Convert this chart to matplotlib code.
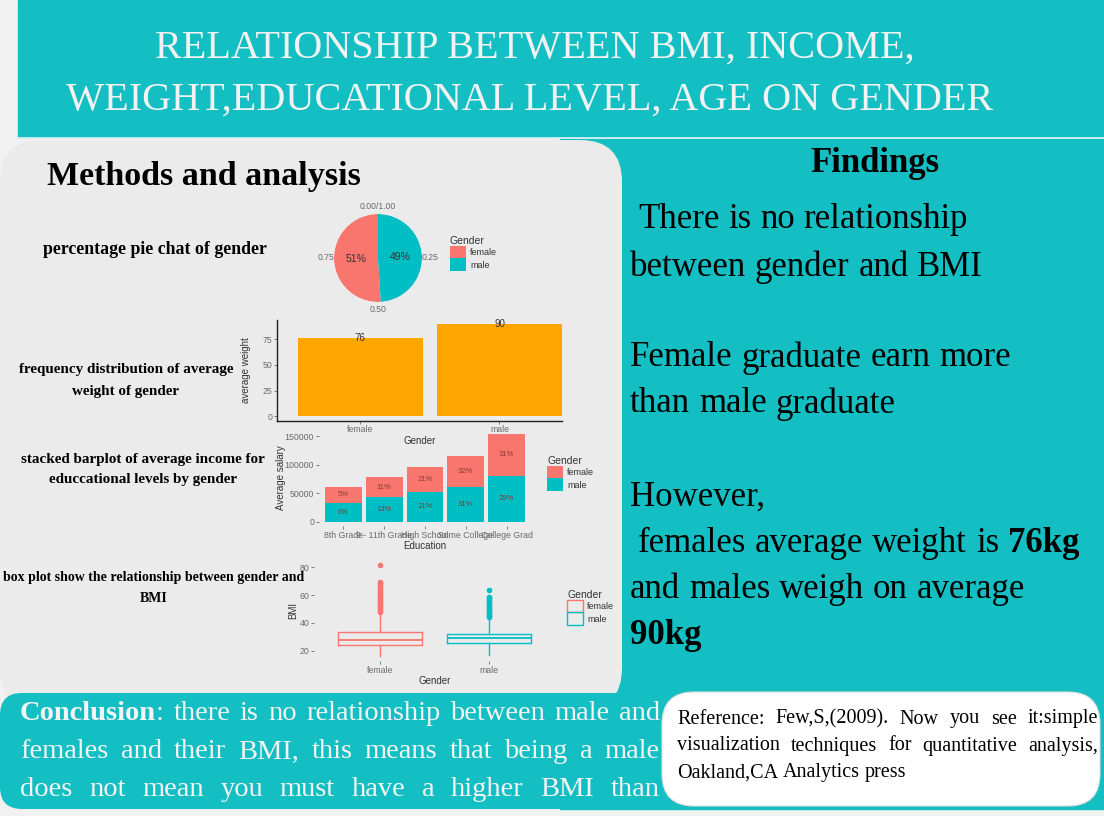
import matplotlib

matplotlib.use("Agg")
import matplotlib.pyplot as plt
import numpy as np
from matplotlib.patches import FancyBboxPatch, Patch, Rectangle

# ---- data ----------------------------------------------------------
title_lines = ["RELATIONSHIP BETWEEN BMI, INCOME,", "WEIGHT,EDUCATIONAL LEVEL, AGE ON GENDER"]

genders = ["female", "male"]
gender_share = [0.51, 0.49]
gender_pct = ["51%", "49%"]
pie_ticks = [0.0, 0.25, 0.5, 0.75]
pie_tick_labels = ["0.00/1.00", "0.25", "0.50", "0.75"]

avg_weight = [76, 90]

education = ["8th Grade", "9 - 11th Grade", "High School", "Some College", "College Grad"]
salary_male = [33300, 43300, 52000, 61000, 80000]
salary_female = [28100, 35100, 44000, 54000, 74000]
pct_male = ["6%", "13%", "21%", "31%", "29%"]
pct_female = ["5%", "11%", "21%", "32%", "31%"]

bmi_whislo = [16.0, 17.0]
bmi_q1 = [24.1, 25.3]
bmi_med = [27.7, 28.9]
bmi_q3 = [33.2, 32.0]
bmi_whishi = [47.0, 43.5]
bmi_fliers_female = [47.5, 48.5, 49.5, 50.5, 51.5, 52.5, 53.5, 54.5, 55.5, 56.5, 57.5,
                     58.5, 59.5, 60.5, 61.5, 62.5, 63.5, 64.5, 65.5, 66.5, 67.5, 68.5, 69.5, 81.5]
bmi_fliers_male = [44.0, 45.0, 46.0, 47.0, 48.0, 49.0, 50.0, 51.0, 52.0, 53.0, 54.0,
                   55.0, 56.0, 57.0, 58.0, 59.0, 64.0]

findings = [
    (218, 638, "There is no relationship"),
    (265, 630, "between gender and BMI"),
    (356, 630, "Female graduate earn more"),
    (402, 630, "than male graduate"),
    (495, 630, "However,"),
    (541, 638, "females average weight is *76kg*"),
    (587, 630, "and males weigh on average"),
    (633, 630, "*90kg*"),
]
# (x centre, y centre, font size, text)
method_labels = [
    (155, 249, 12.8, "percentage pie chat of gender"),
    (126, 370, 10.9, "frequency distribution of average"),
    (126, 391, 10.9, "weight of gender"),
    (143, 459, 10.9, "stacked barplot of average income for"),
    (143, 480, 10.9, "educcational levels by gender"),
    (154, 578, 10.0, "box plot show the relationship between gender and"),
    (154, 599, 10.0, "BMI"),
]
conclusion = [
    "*Conclusion*: there is no relationship between male and",
    "females and their BMI, this means that being a male",
    "does not mean you must have a higher BMI than",
]
reference = [
    "Reference: Few,S,(2009). Now you see it:simple",
    "visualization techniques for quantitative analysis,",
    "Oakland,CA Analytics press",
]

# ---- style -----------------------------------------------------------
TEAL = "#13bfc3"
PANEL = "#ebebeb"
BG = "#f1f1f1"
FEMALE = "#F8766D"
MALE = "#00BFC4"
TICK = "#6a6a6a"
LAB = "#333333"
SERIF = "Liberation Serif"
W, H = 1104, 816

plt.rcParams["font.family"] = ["Liberation Sans", "DejaVu Sans"]

fig = plt.figure(figsize=(W / 100, H / 100), dpi=100)
bg = fig.add_axes([0, 0, 1, 1])
bg.set_xlim(0, W)
bg.set_ylim(H, 0)
bg.axis("off")
renderer = fig.canvas.get_renderer()


def px_axes(x0, y0, x1, y1, **kw):
    return fig.add_axes([x0 / W, 1 - y1 / H, (x1 - x0) / W, (y1 - y0) / H], **kw)


def measure(s, weight, kw):
    t = bg.text(0, 0, s, fontweight=weight, **kw)
    w = t.get_window_extent(renderer).width
    t.remove()
    return w


def parse_runs(line):
    words, bold = [], False
    for word in line.split(" "):
        pieces = []
        for k, part in enumerate(word.split("*")):
            if k > 0:
                bold = not bold
            if part:
                pieces.append((part, "bold" if bold else "normal"))
        if pieces:
            words.append(pieces)
    return words


def draw_line(y, x0, line, x1=None, **kw):
    words = parse_runs(line)
    widths = [[measure(s, wt, kw) for s, wt in w] for w in words]
    total = sum(sum(ws) for ws in widths)
    if x1 is None or len(words) < 2:
        gap = measure("a a", "normal", kw) - measure("aa", "normal", kw)
    else:
        gap = (x1 - x0 - total) / (len(words) - 1)
    x = x0
    for w, ws in zip(words, widths):
        for (s, wt), ww in zip(w, ws):
            bg.text(x, y, s, fontweight=wt, ha="left", va="center", **kw)
            x += ww
        x += gap


def style_axis(ax, spines=False):
    ax.set_facecolor("none")
    for side in ax.spines:
        ax.spines[side].set_visible(False)
    if spines:
        for side in ("left", "bottom"):
            ax.spines[side].set_visible(True)
            ax.spines[side].set_color("#222222")
            ax.spines[side].set_linewidth(1.0)
    ax.tick_params(labelsize=6.3, colors=TICK, length=2, width=0.6, pad=1.5)


def gender_legend(ax, handles, x, y):
    leg = ax.legend(handles, genders, title="Gender", loc="upper left",
                    bbox_to_anchor=(x / W, 1 - y / H), bbox_transform=fig.transFigure,
                    frameon=False, fontsize=6.5, title_fontsize=7.5, alignment="left",
                    handlelength=1.75, handleheight=1.75, handletextpad=0.5,
                    labelspacing=0.0, borderpad=0, borderaxespad=0)
    leg.get_title().set_color(LAB)
    for t in leg.get_texts():
        t.set_color(LAB)


# ---- poster background -----------------------------------------------
bg.add_patch(Rectangle((0, 0), W, H, color=BG, zorder=0))
bg.add_patch(Rectangle((18, 0), W - 18, 137, color=TEAL, zorder=1))
bg.add_patch(Rectangle((560, 139), W - 560, 670, color=TEAL, zorder=1))
bg.plot([18, W], [138, 138], color="#dff2f2", lw=1.2, zorder=1)
bg.add_patch(FancyBboxPatch((0, 140), 622, 570, boxstyle="round,pad=0,rounding_size=42",
                            fc=PANEL, ec="none", zorder=2))
bg.add_patch(FancyBboxPatch((0, 693), 700, 116, boxstyle="round,pad=0,rounding_size=22",
                            fc=TEAL, ec="none", zorder=3))
bg.add_patch(FancyBboxPatch((662, 692), 438, 114, boxstyle="round,pad=0,rounding_size=32",
                            fc="white", ec="#dddddd", lw=0.8, zorder=4))

# ---- texts -----------------------------------------------------------------
for (y, line), x in zip(((48, title_lines[0]), (100, title_lines[1])), (535, 530)):
    bg.text(x, y, line, ha="center", va="center", fontsize=29, family=SERIF,
            color="#f2f2f2", zorder=5)

bg.text(47, 176, "Methods and analysis", ha="left", va="center", fontsize=24.5,
        family=SERIF, fontweight="bold", zorder=5)
bg.text(875, 163, "Findings", ha="center", va="center", fontsize=25,
        family=SERIF, fontweight="bold", zorder=5)

for y, x, line in findings:
    draw_line(y + 2, x, line, fontsize=25, family=SERIF, color="black", zorder=5)

for x, y, size, line in method_labels:
    bg.text(x, y, line, ha="center", va="center", fontsize=size, family=SERIF,
            fontweight="bold", zorder=5)

for i, line in enumerate(conclusion):
    draw_line(714 + 38 * i, 20, line, x1=660, fontsize=20.5, family=SERIF,
              color="#f4f4f4", zorder=5)

for i, line in enumerate(reference):
    draw_line(719 + 27 * i, 677, line, x1=1098 if i < 2 else None, fontsize=14.5,
              family=SERIF, color="black", zorder=5)

# ---- pie chart (polar bars) -----------------------------------------------
cx, cy, r = 378, 258, 44
ax_pie = px_axes(cx - r, cy - r, cx + r, cy + r, projection="polar")
ax_pie.set_theta_zero_location("N")
ax_pie.set_theta_direction(-1)
starts = [gender_share[1], 0.0]  # male drawn from the top, female after it
pie_bars = []
for share, start, col, pct in zip(gender_share, starts, (FEMALE, MALE), gender_pct):
    b = ax_pie.bar(2 * np.pi * start, 1, width=2 * np.pi * share, align="edge",
                   color=col, linewidth=0)
    pie_bars.append(b[0])
    ax_pie.text(2 * np.pi * (start + share / 2), 0.5, pct, ha="center", va="center",
                fontsize=7.5, color="#333333")
ax_pie.set_ylim(0, 1)
ax_pie.set_yticks([])
ax_pie.set_xticks(2 * np.pi * np.array(pie_ticks), pie_tick_labels)
ax_pie.grid(False)
ax_pie.spines["polar"].set_visible(False)
ax_pie.set_facecolor("none")
ax_pie.tick_params(axis="x", labelsize=6.2, colors=TICK, pad=-5)
gender_legend(ax_pie, pie_bars, 450, 236)

# ---- average weight bars ------------------------------------------------------
ax_w = px_axes(277, 319.6, 562, 420.6)
bars_w = ax_w.bar([1, 2], avg_weight, width=0.9, color="#FFA500")
for i, v in enumerate(avg_weight):
    ax_w.text(i + 1, v, str(v), ha="center", va="center", fontsize=7, color="#333333")
ax_w.set_xlim(0.4, 2.45)
ax_w.set_ylim(-4.5, 94.5)
ax_w.set_xticks([1, 2], genders)
ax_w.set_yticks([0, 25, 50, 75])
style_axis(ax_w, spines=True)
ax_w.set_xlabel("Gender", fontsize=7, color=LAB, labelpad=1)
ax_w.set_ylabel("average weight", fontsize=7, color=LAB, labelpad=8)

# ---- stacked income bars --------------------------------------------------------
ax_s = px_axes(319, 429.5, 531, 526.1)
pos = np.arange(1, len(education) + 1)
b_male = ax_s.bar(pos, salary_male, 0.9, color=MALE)
b_female = ax_s.bar(pos, salary_female, 0.9, bottom=salary_male, color=FEMALE)
for p, m, f, pm, pf in zip(pos, salary_male, salary_female, pct_male, pct_female):
    ax_s.text(p, m / 2, pm, ha="center", va="center", fontsize=5.5, color="#8b3a3a")
    ax_s.text(p, m + f / 2, pf, ha="center", va="center", fontsize=5.5, color="#8b3a3a")
ax_s.set_xlim(0.4, 5.6)
ax_s.set_ylim(-7700, 161700)
ax_s.set_xticks(pos, education)
ax_s.set_yticks([0, 50000, 100000, 150000])
style_axis(ax_s)
ax_s.set_xlabel("Education", fontsize=7, color=LAB, labelpad=1)
ax_s.set_ylabel("Average salary", fontsize=7, color=LAB, labelpad=-1)
gender_legend(ax_s, [b_female[0], b_male[0]], 547, 456)

# ---- BMI box plot -------------------------------------------------------------
ax_b = px_axes(314, 560.7, 555, 660.8)
fliers = [bmi_fliers_female, bmi_fliers_male]
for i, col in enumerate((FEMALE, MALE)):
    st = [dict(whislo=bmi_whislo[i], q1=bmi_q1[i], med=bmi_med[i], q3=bmi_q3[i],
               whishi=bmi_whishi[i], fliers=fliers[i])]
    ax_b.bxp(st, positions=[i + 1], widths=0.77, showcaps=False,
             boxprops=dict(color=col, lw=1.0), whiskerprops=dict(color=col, lw=1.0),
             medianprops=dict(color=col, lw=1.3),
             flierprops=dict(marker="o", markersize=3, mfc=col, mec=col))
ax_b.set_xlim(0.4, 2.6)
ax_b.set_ylim(12.7, 84.8)
ax_b.set_xticks([1, 2], genders)
ax_b.set_yticks([20, 40, 60, 80])
style_axis(ax_b)
ax_b.set_xlabel("Gender", fontsize=7, color=LAB, labelpad=1)
ax_b.set_ylabel("BMI", fontsize=7, color=LAB, labelpad=1)
gender_legend(ax_b, [Patch(fc="none", ec=FEMALE), Patch(fc="none", ec=MALE)], 567, 590)

fig.savefig("out.png", dpi=100)
